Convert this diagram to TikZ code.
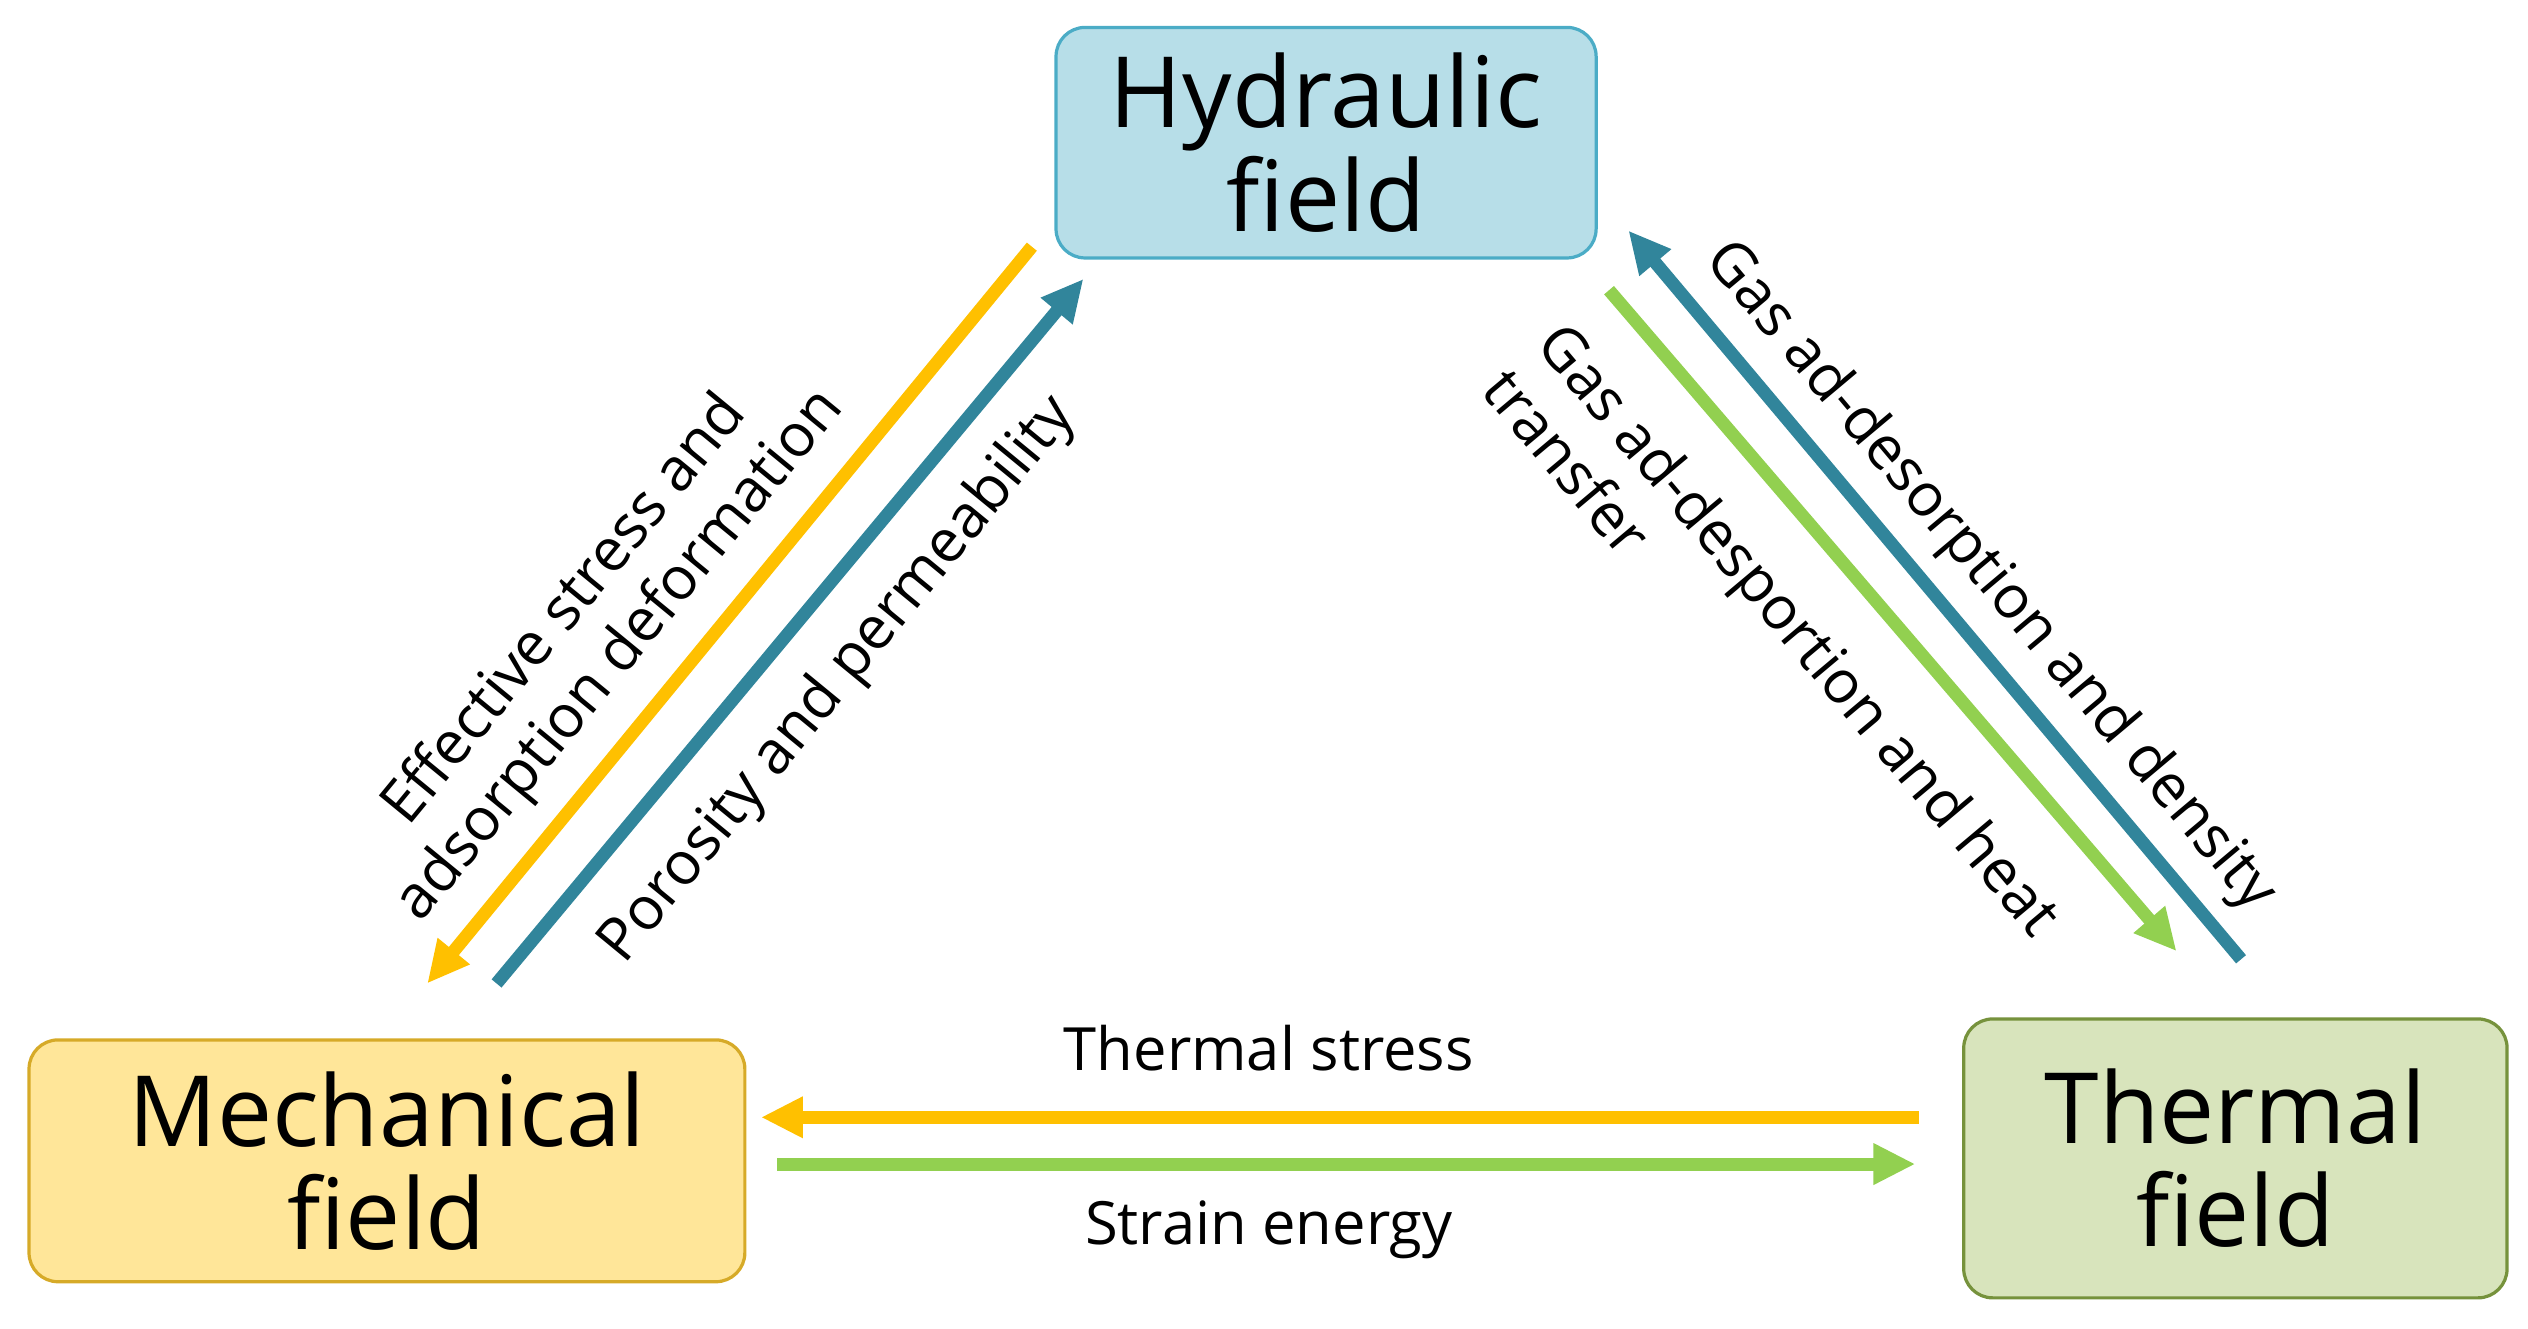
\documentclass[tikz,border=0pt]{standalone}
\usepackage{fontspec}
\setmainfont{Open Sans}
\usetikzlibrary{arrows.meta}
\definecolor{hyfill}{RGB}{183,222,232}\definecolor{hyline}{RGB}{75,172,198}
\definecolor{mefill}{RGB}{255,230,153}\definecolor{meline}{RGB}{214,170,40}
\definecolor{thfill}{RGB}{216,228,188}\definecolor{thline}{RGB}{118,146,60}
\definecolor{arry}{RGB}{255,192,0}\definecolor{arrt}{RGB}{49,133,155}\definecolor{arrg}{RGB}{146,208,80}
\begin{document}
\begin{tikzpicture}[x=1pt,y=-1pt,
 box/.style={draw,line width=2pt,rounded corners=18pt,font=\fontsize{61}{64}\selectfont,align=center,inner sep=0pt},
 arr/.style={line width=8pt,-{Triangle[length=26pt,width=24pt]}},
 lab/.style={font=\fontsize{37}{44}\selectfont,align=center,inner sep=0pt}]
\useasboundingbox (0,0) rectangle (1568,824);
\node[box,fill=hyfill,draw=hyline,minimum width=335pt,minimum height=143pt] (hy) at (822.5,88.5) {Hydraulic\\field};
\node[box,fill=mefill,draw=meline,minimum width=444pt,minimum height=150pt] (me) at (240,720) {Mechanical\\field};
\node[box,fill=thfill,draw=thline,minimum width=337pt,minimum height=173pt] (th) at (1386.5,718.5) {Thermal\\field};
\coordinate (a1) at (640,153); \coordinate (a2) at (265,610);
\coordinate (b1) at (308,610); \coordinate (b2) at (672,173);
\coordinate (c1) at (998,180); \coordinate (c2) at (1350,590);
\coordinate (d1) at (1390,595); \coordinate (d2) at (1010,143);
\coordinate (e1) at (1190,693); \coordinate (e2) at (472,693);
\coordinate (f1) at (482,722); \coordinate (f2) at (1188,722);
\draw[arr,arry] (a1) -- (a2);
\draw[arr,arrt] (b1) -- (b2);
\draw[arr,arrg] (c1) -- (c2);
\draw[arr,arrt] (d1) -- (d2);
\draw[arr,arry] (e1) -- (e2);
\draw[arr,arrg] (f1) -- (f2);
\node[lab] (l1) at (368,393) [rotate=50.6] {Effective stress and\\adsorption deformation};
\node[lab] (l2) at (520,422) [rotate=50.6] {Porosity and permeability};
\node[lab] (l3) at (1234,358) [rotate=-50] {Gas ad-desorption and density};
\node[lab,align=left] (l4) at (1100,404) [rotate=-50] {Gas ad-desportion and heat\\transfer};
\node[lab] (l5) at (787,650) {Thermal stress};
\node[lab] (l6) at (787,763) {Strain energy};
\end{tikzpicture}
\end{document}
